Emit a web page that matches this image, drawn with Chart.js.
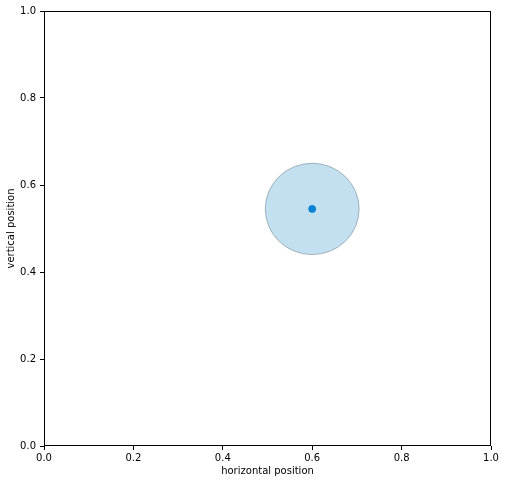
<!DOCTYPE html>
<html>
<head>
<meta charset="utf-8">
<script src="https://cdn.jsdelivr.net/npm/chart.js@4"></script>
<style>
  html, body { margin: 0; padding: 0; background: #fff; }
  #wrap { width: 505px; height: 484px; }
</style>
</head>
<body>
<div id="wrap"><canvas id="posChart" width="505" height="484"></canvas></div>
<script>
// data
const pointX = [0.6];
const pointY = [0.545];
const zoneRadius = [0.105]; // radius of the shaded zone, in data units
const tickValues = [0, 0.2, 0.4, 0.6, 0.8, 1.0];

const FONT = "'DejaVu Sans', sans-serif";

// shaded circle around the point + box frame
const zonePlugin = {
    id: 'zone',
    beforeDatasetsDraw(chart) {
        const { ctx, scales: { x, y } } = chart;
        ctx.save();
        pointX.forEach((px, i) => {
            const cx = x.getPixelForValue(px);
            const cy = y.getPixelForValue(pointY[i]);
            const rx = Math.abs(x.getPixelForValue(px + zoneRadius[i]) - cx);
            const ry = Math.abs(y.getPixelForValue(pointY[i] + zoneRadius[i]) - cy);
            ctx.beginPath();
            ctx.ellipse(cx, cy, rx, ry, 0, 0, Math.PI * 2);
            ctx.fillStyle = 'rgba(135, 194, 228, 0.5)';
            ctx.fill();
            ctx.lineWidth = 1;
            ctx.strokeStyle = 'rgba(110, 130, 140, 0.55)';
            ctx.stroke();
        });
        ctx.restore();
    },
    afterDraw(chart) {
        const { ctx, chartArea: a } = chart;
        ctx.save();
        ctx.strokeStyle = '#000';
        ctx.lineWidth = 1;
        ctx.strokeRect(Math.round(a.left) + 0.5, Math.round(a.top) + 0.5,
            Math.round(a.right - a.left) - 1, Math.round(a.bottom - a.top) - 1);
        ctx.restore();
    }
};

const ctx = document.getElementById('posChart').getContext('2d');
new Chart(ctx, {
    type: 'scatter',
    data: {
        datasets: [{
            data: pointX.map((v, i) => ({ x: v, y: pointY[i] })),
            backgroundColor: '#0a84d2',
            borderColor: '#0a84d2',
            pointRadius: 3.5,
            pointHoverRadius: 3.5
        }]
    },
    options: {
        responsive: false,
        animation: false,
        layout: { padding: { top: 11, right: 14, left: 0, bottom: 0 } },
        plugins: { legend: { display: false }, tooltip: { enabled: false } },
        scales: {
            x: {
                type: 'linear',
                min: 0, max: 1,
                afterBuildTicks: s => { s.ticks = tickValues.map(v => ({ value: v })); },
                afterFit: s => { s.height = 38; },
                grid: { drawOnChartArea: false, drawTicks: true, tickLength: 4, color: '#000' },
                border: { display: false },
                ticks: {
                    color: '#000', padding: 2, maxRotation: 0,
                    font: { family: FONT, size: 10 },
                    callback: v => Number(v).toFixed(1)
                },
                title: {
                    display: true, text: 'horizontal position', color: '#000',
                    font: { family: FONT, size: 10 }, padding: { top: 0, bottom: 7 }
                }
            },
            y: {
                type: 'linear',
                min: 0, max: 1,
                afterBuildTicks: s => { s.ticks = tickValues.map(v => ({ value: v })); },
                afterFit: s => { s.width = 44; },
                grid: { drawOnChartArea: false, drawTicks: true, tickLength: 4, color: '#000' },
                border: { display: false },
                ticks: {
                    color: '#000', padding: 4,
                    font: { family: FONT, size: 10 },
                    callback: v => Number(v).toFixed(1)
                },
                title: {
                    display: true, text: 'vertical position', color: '#000',
                    font: { family: FONT, size: 10 }, padding: { top: 5, bottom: 0 }
                }
            }
        }
    },
    plugins: [zonePlugin]
});
</script>
</body>
</html>
